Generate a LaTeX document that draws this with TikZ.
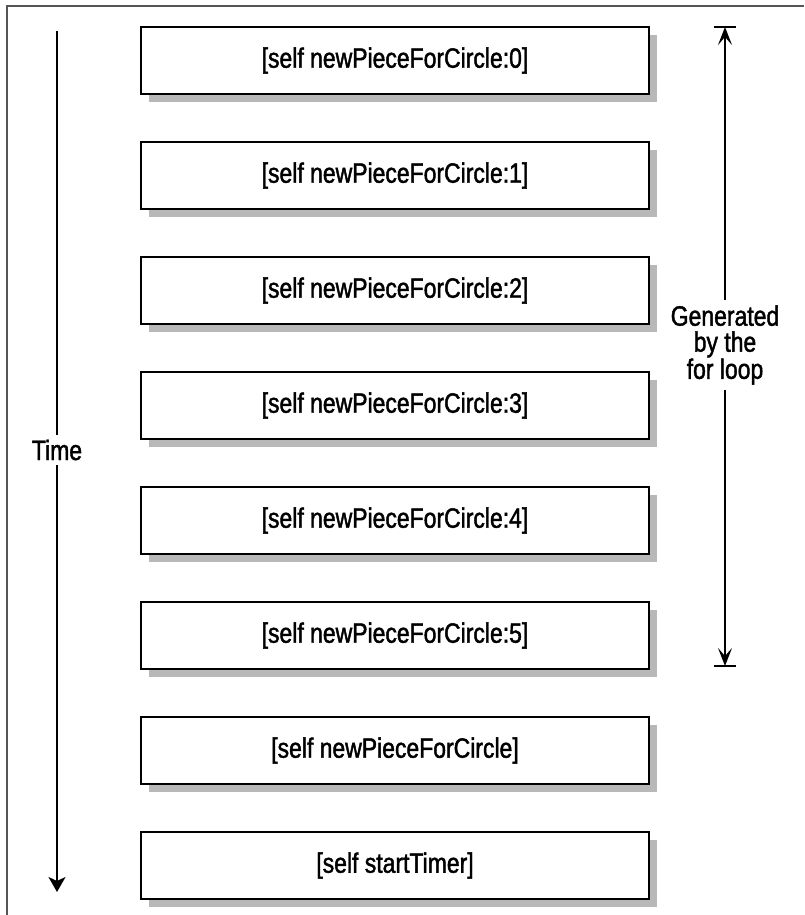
\documentclass[tikz,border=0pt]{standalone}
\usepackage{fontspec}
\setmainfont[FakeStretch=0.82, FakeBold=1.5]{Liberation Sans}
\usetikzlibrary{arrows.meta}
\definecolor{shadowgray}{HTML}{B8B8B8}
\definecolor{framegray}{HTML}{555555}
\tikzset{
  callbox/.style={draw=black, line width=2pt, fill=white, minimum width=508pt, minimum height=67pt, inner sep=0pt, font=\fontsize{28}{30}\selectfont},
  shadowbox/.style={fill=shadowgray, draw=none, minimum width=508pt, minimum height=67pt, inner sep=0pt},
  label/.style={font=\fontsize{28}{26}\selectfont, align=center, inner sep=5pt},
  timeline/.style={line width=2pt},
  timetip/.style={-{Stealth[length=15pt, width=17pt, inset=4pt]}},
  looptip/.style={-{Stealth[length=18pt, width=14pt, inset=8pt]}},
  barline/.style={line width=2pt},
}
\begin{document}
\begin{tikzpicture}[x=1pt, y=-1pt]
\useasboundingbox (0,0) rectangle (804,915);
% frame (left and top only)
\draw[framegray, line width=1.5pt] (7,915) -- (7,6) -- (804,6);
% boxes
\foreach \i/\t in {0/{[self newPieceForCircle:0]},1/{[self newPieceForCircle:1]},2/{[self newPieceForCircle:2]},3/{[self newPieceForCircle:3]},4/{[self newPieceForCircle:4]},5/{[self newPieceForCircle:5]},6/{[self newPieceForCircle]},7/{[self startTimer]}}{
  \node[shadowbox] (s\i) at (403, 68.5+115*\i) {};
  \node[callbox] (b\i) at (395, 60.5+115*\i) {\t};
}
% time arrow
\coordinate (ttop) at (57,31);
\coordinate (tbot) at (57,892);
\node[label] (time) at (57,450) {Time};
\draw[timeline] (ttop) -- (time.north);
\draw[timeline, timetip] (time.south) -- (tbot);
% loop arrow
\coordinate (ltop) at (725,27);
\coordinate (lbot) at (725,666);
\draw[barline] (714,27) -- (736,27);
\draw[barline] (714,666) -- (736,666);
\node[label] (gen) at (725,345) {Generated\\by the\\for loop};
\draw[timeline, looptip] (gen.north) -- (ltop);
\draw[timeline, looptip] (gen.south) -- (lbot);
\end{tikzpicture}
\end{document}
